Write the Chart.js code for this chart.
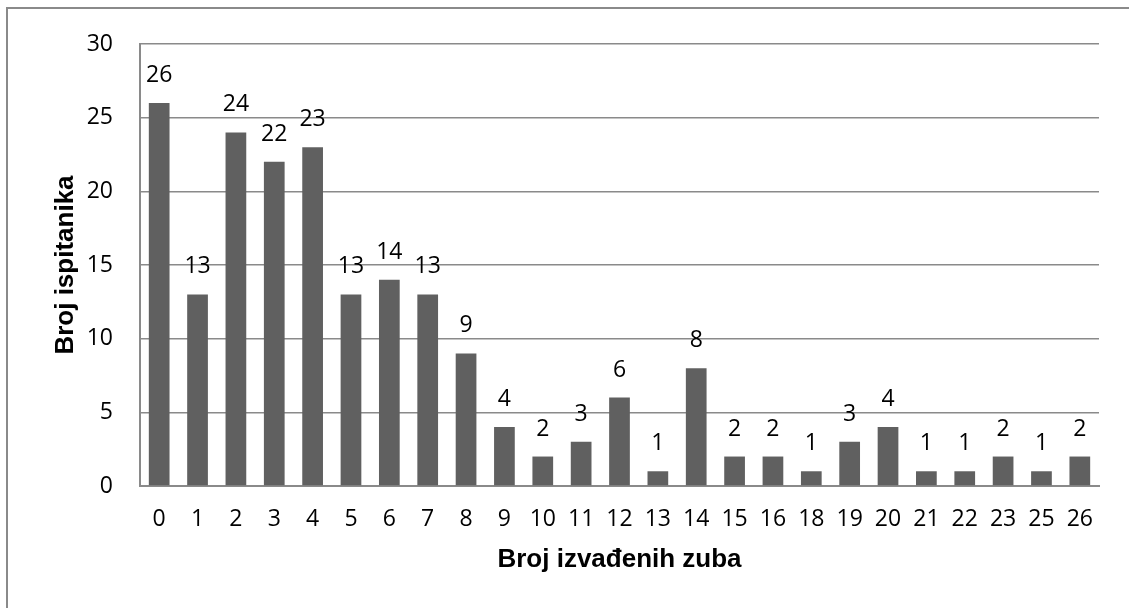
<!DOCTYPE html>
<html>
<head>
<meta charset="utf-8">
<script src="https://cdn.jsdelivr.net/npm/chart.js@4.4.0/dist/chart.umd.min.js"></script>
<style>
  html, body { margin: 0; padding: 0; background: #ffffff; }
  #wrap { position: relative; width: 1129px; height: 608px; overflow: hidden; }
  #frame { position: absolute; left: 6px; top: 7px; width: 1200px; height: 700px;
           border-left: 2px solid #8a8a8a; border-top: 2px solid #8a8a8a; box-sizing: border-box; }
  canvas { position: absolute; left: 0; top: 0; }
</style>
</head>
<body>
<div id="wrap">
  <div id="frame"></div>
  <canvas id="c" width="1129" height="608"></canvas>
</div>
<script>
const categories = ["0","1","2","3","4","5","6","7","8","9","10","11","12","13","14","15","16","18","19","20","21","22","23","25","26"];
const counts = [26,13,24,22,23,13,14,13,9,4,2,3,6,1,8,2,2,1,3,4,1,1,2,1,2];
const yTicks = [0,5,10,15,20,25,30];
const xTitle = "Broj izvađenih zuba";
const yTitle = "Broj ispitanika";

const numFont = { family: "'Open Sans', sans-serif", size: 23 };
const titleFont = { family: "'Liberation Sans', Arial, sans-serif", size: 26, weight: "bold" };

const labelPlugin = {
  id: "barLabels",
  afterDatasetsDraw(chart) {
    const ctx = chart.ctx;
    const meta = chart.getDatasetMeta(0);
    ctx.save();
    ctx.font = numFont.size + "px " + numFont.family;
    ctx.fillStyle = "#000000";
    ctx.textAlign = "center";
    ctx.textBaseline = "alphabetic";
    meta.data.forEach((bar, i) => {
      ctx.fillText(String(counts[i]), bar.x, bar.y - 21);
    });
    ctx.restore();
  }
};

new Chart(document.getElementById("c"), {
  type: "bar",
  data: {
    labels: categories,
    datasets: [{
      data: counts,
      backgroundColor: "#606060",
      borderWidth: 0,
      barPercentage: 0.54,
      categoryPercentage: 1.0
    }]
  },
  options: {
    responsive: false,
    animation: false,
    events: [],
    layout: { padding: { left: 0, top: 44, right: 30, bottom: 0 } },
    plugins: { legend: { display: false }, tooltip: { enabled: false } },
    scales: {
      x: {
        grid: { display: false, drawTicks: false },
        border: { display: true, color: "#8a8a8a", width: 2 },
        ticks: { color: "#000000", font: numFont, padding: 20, maxRotation: 0, autoSkip: false },
        title: { display: true, text: xTitle, color: "#000000", font: titleFont, padding: { top: 0, bottom: 33 } },
        afterFit(scale) { scale.height = 122; }
      },
      y: {
        min: 0, max: 30,
        afterBuildTicks(scale) { scale.ticks = yTicks.map(v => ({ value: v })); },
        grid: { color: "#8a8a8a", lineWidth: 1.5, drawTicks: false },
        border: { display: true, color: "#8a8a8a", width: 2 },
        ticks: { color: "#000000", font: numFont, padding: 27 },
        title: { display: true, text: yTitle, color: "#000000", font: titleFont, padding: { top: 50, bottom: 0 } },
        afterFit(scale) { scale.width = 140; }
      }
    }
  },
  plugins: [labelPlugin]
});
</script>
</body>
</html>
